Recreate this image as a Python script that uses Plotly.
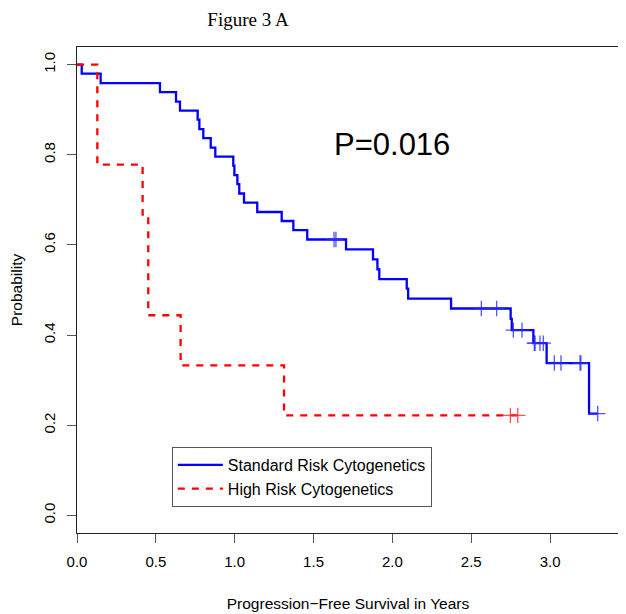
import plotly.graph_objects as go

# ---- data ----
std_times = [0.0, 0.030, 0.150, 0.526, 0.628, 0.653, 0.765, 0.776, 0.801, 0.848, 0.877,
             0.991, 0.998, 1.017, 1.029, 1.059, 1.143, 1.298, 1.372, 1.460, 1.706, 1.877,
             1.905, 1.917, 2.091, 2.100, 2.372, 2.750, 2.757, 2.894, 2.978, 3.247]
std_surv = [1.000, 0.980, 0.959, 0.939, 0.918, 0.898, 0.878, 0.857, 0.837, 0.816, 0.796,
            0.776, 0.755, 0.735, 0.714, 0.694, 0.673, 0.653, 0.633, 0.612, 0.590, 0.568,
            0.546, 0.524, 0.503, 0.481, 0.459, 0.436, 0.411, 0.382, 0.338, 0.226]
std_end = 3.302
std_censor = [1.630, 1.642, 2.564, 2.661, 2.767, 2.822, 2.900, 2.905, 2.936, 2.957,
              3.027, 3.069, 3.190, 3.195, 3.302]

high_times = [0.0, 0.129, 0.416, 0.452, 0.657, 1.313]
high_surv = [1.000, 0.778, 0.667, 0.444, 0.333, 0.222]
high_end = 2.800
high_censor = [2.748, 2.795]

x_ticks = [0.0, 0.5, 1.0, 1.5, 2.0, 2.5, 3.0]
y_ticks = [0.0, 0.2, 0.4, 0.6, 0.8, 1.0]

p_label = "P=0.016"
p_pos = (2.0, 0.822)


def surv_at(times, surv, t):
    s = surv[0]
    for ti, si in zip(times, surv):
        if ti <= t:
            s = si
    return s


BLUE = "#0000ff"
RED = "#ff0000"

# page body has an 8px default margin, so the figure is drawn 8px smaller
W, H = 626 - 8, 614 - 8

fig = go.Figure()

fig.add_trace(go.Scatter(
    x=std_times + [std_end], y=std_surv + [std_surv[-1]],
    mode="lines", line=dict(shape="hv", color=BLUE, width=2.3),
    name="Standard Risk Cytogenetics"))
fig.add_trace(go.Scatter(
    x=high_times + [high_end], y=high_surv + [high_surv[-1]],
    mode="lines", line=dict(shape="hv", color=RED, width=2.3, dash="7px,7px"),
    name="High Risk Cytogenetics"))

fig.add_trace(go.Scatter(
    x=std_censor, y=[surv_at(std_times, std_surv, t) for t in std_censor],
    mode="markers", showlegend=False, hoverinfo="skip",
    marker=dict(symbol="cross-thin-open", size=11, color="rgba(40,40,255,0.8)",
                line=dict(width=1.3, color="rgba(40,40,255,0.8)"))))
fig.add_trace(go.Scatter(
    x=high_censor, y=[surv_at(high_times, high_surv, t) for t in high_censor],
    mode="markers", showlegend=False, hoverinfo="skip",
    marker=dict(symbol="cross-thin-open", size=11, color="rgba(255,40,40,0.8)",
                line=dict(width=1.3, color="rgba(255,40,40,0.8)"))))

fig.add_annotation(x=p_pos[0], y=p_pos[1], xref="x", yref="y", text=p_label,
                   showarrow=False, font=dict(family="Liberation Sans", size=31, color="black"))

axis_font = dict(family="Liberation Sans", size=15, color="black")
title_font = dict(family="Liberation Sans", size=15.5, color="black")

fig.update_layout(
    width=W, height=H,
    margin=dict(l=69, r=7, t=39, b=81, autoexpand=False),
    paper_bgcolor="white", plot_bgcolor="white",
    title=dict(text="Figure 3 A", x=(248 - 8) / W, xanchor="center", y=1 - (19 - 8) / H,
               yanchor="middle",
               font=dict(family="Liberation Serif", size=19, color="black")),
    showlegend=True,
    legend=dict(x=0.175, y=0.177, xanchor="left", yanchor="top",
                bordercolor="#555555", borderwidth=1, bgcolor="white",
                font=dict(family="Liberation Sans", size=16, color="black"),
                tracegroupgap=0, itemwidth=45),
    xaxis=dict(range=[0, 3.437], tickvals=x_ticks, ticktext=[f"{v:.1f}" for v in x_ticks],
               showgrid=False, zeroline=False, showline=True, linecolor="#222", linewidth=1,
               mirror=True, ticks="outside", ticklen=9, tickcolor="#555", tickwidth=1,
               tickfont=axis_font, ticklabelstandoff=6, automargin=False,
               title=dict(text="Progression\u2212Free Survival in Years", font=title_font,
                          standoff=29)),
    yaxis=dict(range=[-0.039, 1.039], tickvals=y_ticks, ticktext=[f"{v:.1f}" for v in y_ticks],
               showgrid=False, zeroline=False, showline=True, linecolor="#222", linewidth=1,
               mirror=True, ticks="outside", ticklen=9, tickcolor="#555", tickwidth=1,
               tickangle=-90, tickfont=axis_font, ticklabelstandoff=6, automargin=False,
               title=dict(text="Probability", font=title_font, standoff=25)),
)

fig.write_html("out.html")
